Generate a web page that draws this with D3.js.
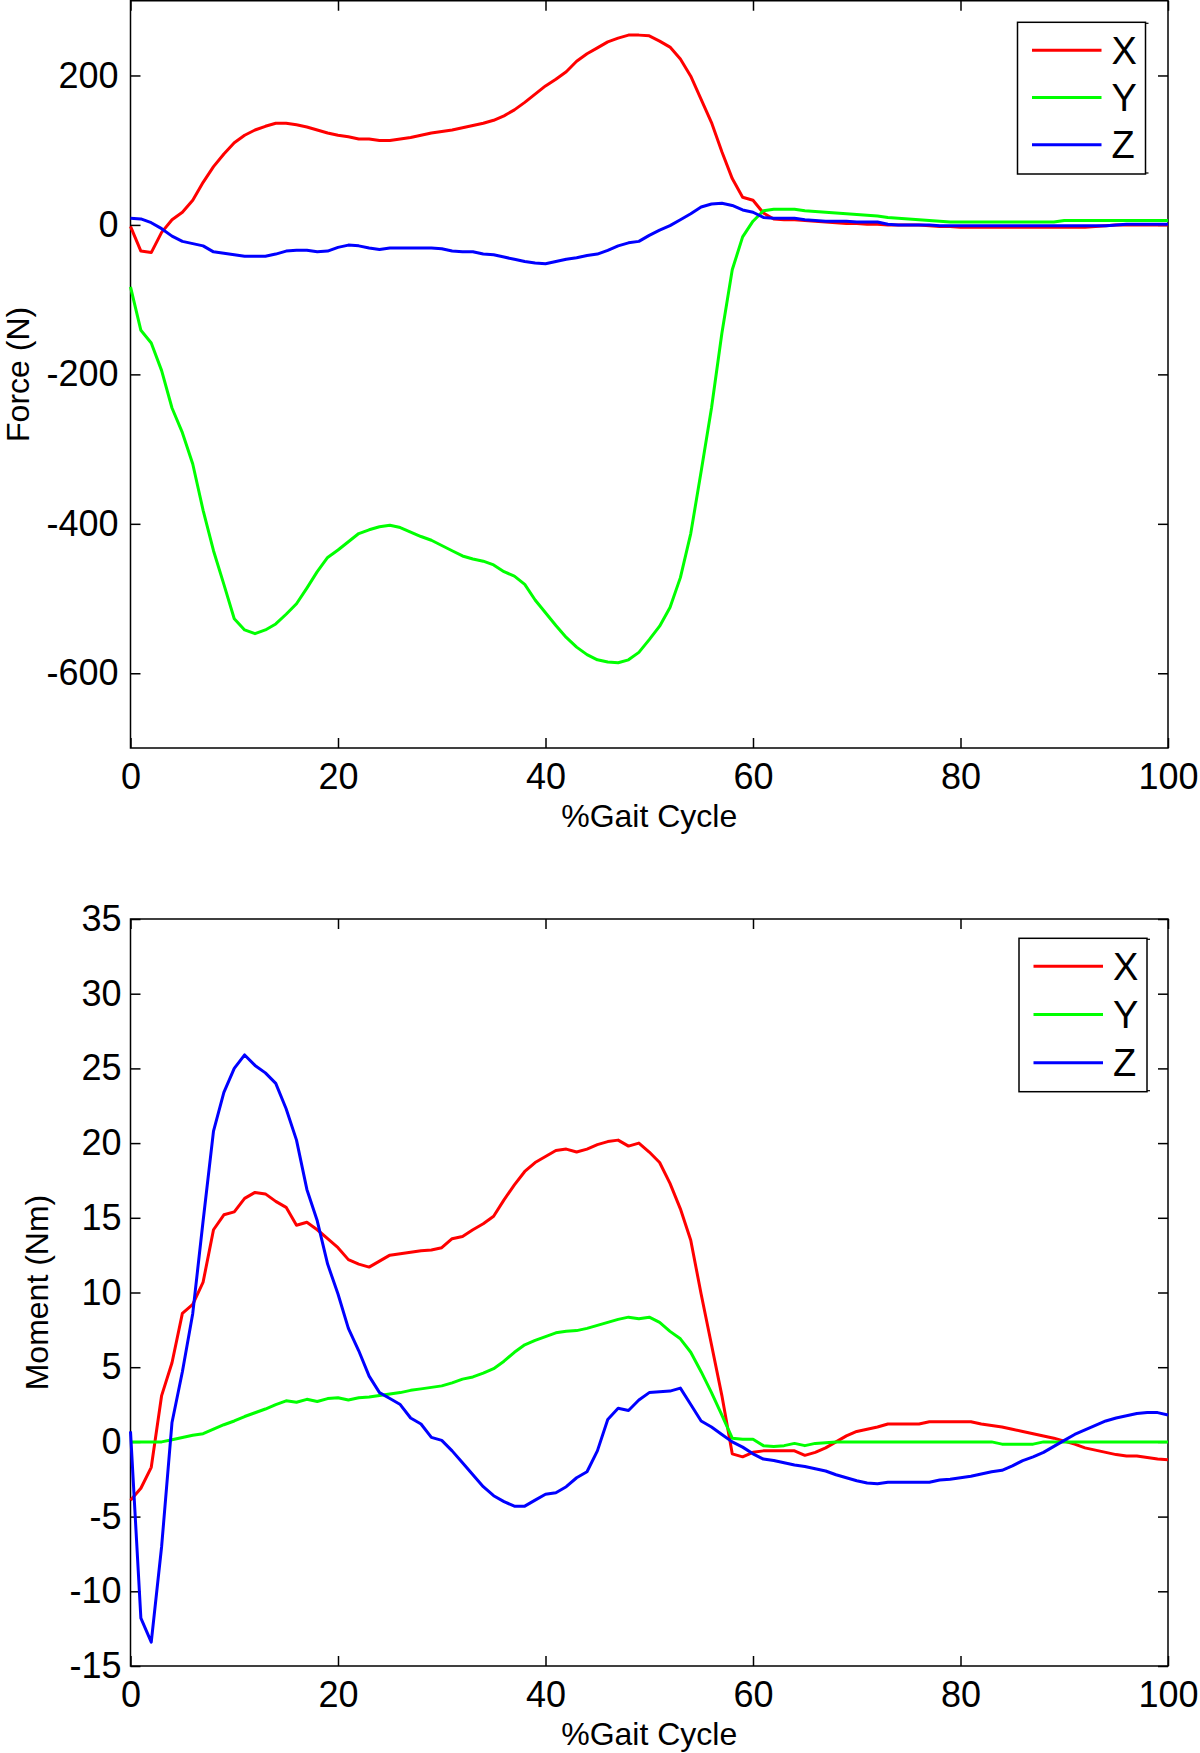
<!DOCTYPE html>
<html><head><meta charset="utf-8">
<script src="https://cdn.jsdelivr.net/npm/d3@7"></script>
<style>
body{margin:0;background:#fff}
svg{display:block}
text{font-family:"Liberation Sans",Arial,Helvetica,sans-serif;fill:#000}
</style>
</head><body>
<svg id="c" width="1200" height="1753"></svg>
<script>
const gaitPct = [0,1,2,3,4,5,6,7,8,9,10,11,12,13,14,15,16,17,18,19,20,21,22,23,24,25,26,27,28,29,30,31,32,33,34,35,36,37,38,39,40,41,42,43,44,45,46,47,48,49,50,51,52,53,54,55,56,57,58,59,60,61,62,63,64,65,66,67,68,69,70,71,72,73,74,75,76,77,78,79,80,81,82,83,84,85,86,87,88,89,90,91,92,93,94,95,96,97,98,99,100];

const forceX = [-2,-35,-37,-10,7,17,33,57,78,95,
 110,120,127,132,136,136,134,131,127,123,
 120,118,115,115,113,113,115,117,120,123,
 125,127,130,133,136,140,146,154,164,175,
 186,195,205,219,229,237,245,250,254,254,
 253,246,238,222,199,168,137,98,62,37,
 33,16,8,7,7,6,5,4,3,2,
 2,1,1,0,0,0,0,-1,-2,-2,
 -3,-3,-3,-3,-3,-3,-3,-3,-3,-3,
 -3,-3,-3,-2,-1,0,0,0,0,0,
 0];
const forceY = [-83,-141,-158,-195,-245,-278,-320,-382,-436,-481,
 -527,-542,-547,-542,-534,-521,-507,-486,-464,-445,
 -435,-424,-413,-408,-404,-402,-405,-411,-417,-422,
 -429,-436,-443,-447,-450,-455,-464,-470,-481,-502,
 -519,-536,-552,-565,-575,-582,-585,-586,-582,-572,
 -555,-537,-512,-472,-413,-330,-245,-145,-60,-16,
 5,19,21,21,21,19,18,17,16,15,
 14,13,12,10,9,8,7,6,5,4,
 4,4,4,4,4,4,4,4,4,4,
 6,6,6,6,6,6,6,6,6,6,
 6];
const forceZ = [9,8,3,-5,-15,-22,-25,-28,-36,-38,
 -40,-42,-42,-42,-39,-35,-34,-34,-36,-35,
 -30,-27,-28,-31,-33,-31,-31,-31,-31,-31,
 -32,-35,-36,-36,-39,-40,-43,-46,-49,-51,
 -52,-49,-46,-44,-41,-39,-34,-28,-24,-22,
 -14,-7,-1,7,15,24,28,29,26,20,
 17,10,9,9,9,7,6,5,5,5,
 4,4,4,1,0,0,0,0,-1,-1,
 -1,-1,-1,-1,-1,-1,-1,-1,-1,-1,
 -1,-1,-1,-1,-1,0,1,1,1,1,
 1];

const momentX = [-3.9,-3.1,-1.7,3.1,5.3,8.6,9.2,10.7,14.2,15.2,
 15.4,16.3,16.7,16.6,16.1,15.7,14.5,14.7,14.2,13.6,
 13.0,12.2,11.9,11.7,12.1,12.5,12.6,12.7,12.8,12.85,
 13.0,13.6,13.75,14.2,14.6,15.1,16.2,17.2,18.1,18.7,
 19.1,19.5,19.6,19.4,19.6,19.9,20.1,20.2,19.8,20.0,
 19.4,18.7,17.3,15.6,13.5,9.9,6.5,3.1,-0.8,-1.0,
 -0.7,-0.6,-0.6,-0.6,-0.6,-0.9,-0.7,-0.4,0.0,0.4,
 0.7,0.85,1.0,1.2,1.2,1.2,1.2,1.35,1.35,1.35,
 1.35,1.35,1.2,1.1,1.0,0.85,0.7,0.55,0.4,0.25,
 0.05,-0.15,-0.4,-0.55,-0.7,-0.85,-0.95,-0.95,-1.05,-1.15,
 -1.2];
const momentY = [0,0,0,0,0.15,0.3,0.45,0.55,0.85,1.15,
 1.4,1.7,1.95,2.2,2.5,2.75,2.65,2.85,2.7,2.9,
 2.95,2.8,2.95,3.0,3.1,3.2,3.3,3.45,3.55,3.65,
 3.75,3.95,4.2,4.35,4.6,4.9,5.4,6.0,6.5,6.8,
 7.05,7.3,7.4,7.45,7.6,7.8,8.0,8.2,8.35,8.25,
 8.35,8.0,7.4,6.9,6.0,4.7,3.3,1.8,0.25,0.18,
 0.18,-0.25,-0.3,-0.25,-0.1,-0.25,-0.1,-0.05,0,0,
 0,0,0,0,0,0,0,0,0,0,
 0,0,0,0,-0.15,-0.15,-0.15,-0.15,0,0,
 0,0,0,0,0,0,0,0,0,0,
 0];
const momentZ = [0.7,-11.8,-13.4,-7.0,1.3,4.7,8.6,14.8,20.8,23.4,
 25.0,25.9,25.2,24.7,24.0,22.3,20.2,16.9,14.8,11.9,
 9.9,7.6,6.1,4.4,3.3,2.9,2.5,1.6,1.2,0.3,
 0.1,-0.6,-1.4,-2.2,-3.0,-3.6,-4.0,-4.3,-4.3,-3.9,
 -3.5,-3.4,-3.0,-2.4,-2.0,-0.6,1.5,2.25,2.1,2.8,
 3.3,3.35,3.4,3.6,2.5,1.4,1.0,0.5,0.0,-0.35,
 -0.8,-1.15,-1.25,-1.4,-1.55,-1.65,-1.8,-1.95,-2.2,-2.4,
 -2.6,-2.75,-2.8,-2.7,-2.7,-2.7,-2.7,-2.7,-2.55,-2.5,
 -2.4,-2.3,-2.15,-2.0,-1.9,-1.6,-1.25,-1.0,-0.7,-0.3,
 0.1,0.5,0.8,1.1,1.4,1.6,1.75,1.9,1.96,1.96,
 1.8];

const xTicks = [0,20,40,60,80,100];
const forceTicks = [-600,-400,-200,0,200];
const momentTicks = [-15,-10,-5,0,5,10,15,20,25,30,35];
const seriesNames = ["X","Y","Z"];
const seriesColors = ["#ff0000","#00ff00","#0000ff"];

const svg = d3.select("#c");
const fmt = d => String(d);

function panel(cfg){
  const L = 130.5, R = 1168;
  const x = d3.scaleLinear().domain([0,100]).range([L,R]);
  const y = d3.scaleLinear().domain(cfg.yDomain).range([cfg.bottom, cfg.top]);
  const g = svg.append("g");

  const style = sel => {
    sel.select(".domain").remove();
    sel.selectAll(".tick line").attr("stroke","#000").attr("stroke-width",1.5);
    sel.selectAll("text").attr("font-family",null).attr("font-size",36).attr("fill","#000");
  };
  g.append("g").attr("transform",`translate(${L},0)`)
    .call(d3.axisLeft(y).tickValues(cfg.yTicks).tickSize(-10).tickPadding(cfg.yPad).tickFormat(fmt))
    .call(style);
  g.append("g").attr("transform",`translate(${R},0)`)
    .call(d3.axisRight(y).tickValues(cfg.yTicks).tickSize(-10).tickFormat(""))
    .call(style);
  g.append("g").attr("transform",`translate(0,${cfg.top})`)
    .call(d3.axisTop(x).tickValues(xTicks).tickSize(-10).tickFormat(""))
    .call(style);
  const bx = g.append("g").attr("transform",`translate(0,${cfg.bottom})`)
    .call(d3.axisBottom(x).tickValues(xTicks).tickSize(-10).tickFormat(fmt))
    .call(style);
  bx.selectAll("text").attr("y",40.5).attr("dy",0);

  g.append("rect").attr("x",L).attr("y",cfg.top).attr("width",R-L).attr("height",cfg.bottom-cfg.top)
    .attr("fill","none").attr("stroke","#000").attr("stroke-width",1.5);

  const line = d3.line().x((d,i)=>x(gaitPct[i])).y(d=>y(d));
  cfg.series.forEach((s,k)=>{
    g.append("path").datum(s).attr("d",line).attr("fill","none")
      .attr("stroke",seriesColors[k]).attr("stroke-width",3).attr("stroke-linejoin","round");
  });

  g.append("text").attr("x",(L+R)/2).attr("y",cfg.bottom+79).attr("text-anchor","middle")
    .attr("font-size",32).text("%Gait Cycle");
  g.append("text").attr("transform",`translate(${cfg.labelX},${(cfg.top+cfg.bottom)/2}) rotate(-90)`)
    .attr("text-anchor","middle").attr("font-size",32).text(cfg.yLabel);

  const lg = g.append("g").attr("transform",`translate(${cfg.legendLeft},${cfg.legendTop})`);
  lg.append("rect").attr("x",0).attr("y",0).attr("width",128).attr("height",cfg.legendH)
    .attr("fill","#fff").attr("stroke","#000").attr("stroke-width",1.5);
  lg.append("line").attr("x1",128).attr("x2",131).attr("y1",1).attr("y2",1).attr("stroke","#000").attr("stroke-width",1.2);
  lg.append("line").attr("x1",128).attr("x2",131).attr("y1",cfg.legendH-1).attr("y2",cfg.legendH-1).attr("stroke","#000").attr("stroke-width",1.2);
  seriesNames.forEach((n,k)=>{
    const yy = 28 + k*cfg.legendStep;
    lg.append("line").attr("x1",14.5).attr("x2",84).attr("y1",yy).attr("y2",yy)
      .attr("stroke",seriesColors[k]).attr("stroke-width",3);
    lg.append("text").attr("x",94).attr("y",yy).attr("dy","0.36em").attr("font-size",38).text(n);
  });
}

panel({top:0.75, bottom:748, yDomain:[-700,300], yTicks:forceTicks, yPad:12,
  yLabel:"Force (N)", labelX:29, legendLeft:1017.5, legendTop:22.3, legendH:151.7, legendStep:47.2,
  series:[forceX,forceY,forceZ]});
panel({top:919, bottom:1666, yDomain:[-15,35], yTicks:momentTicks, yPad:9,
  yLabel:"Moment (Nm)", labelX:48, legendLeft:1019, legendTop:938.3, legendH:153.4, legendStep:48.2,
  series:[momentX,momentY,momentZ]});
</script>
</body></html>
